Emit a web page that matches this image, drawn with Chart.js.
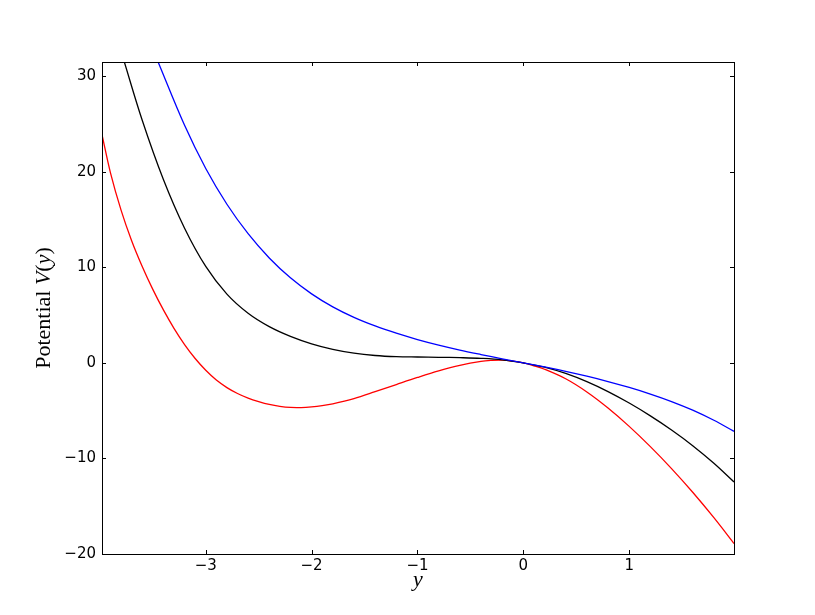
<!DOCTYPE html>
<html>
<head>
<meta charset="utf-8">
<script src="https://cdn.jsdelivr.net/npm/chart.js@4.4.1/dist/chart.umd.min.js"></script>
<style>
  html, body { margin: 0; padding: 0; background: #fff; }
  canvas { display: block; }
</style>
</head>
<body>
<canvas id="potential" width="815" height="615"></canvas>
<script>
// curves: position y and potential V(y) for each line
const yRed = [-3.98, -3.9, -3.8, -3.7, -3.6, -3.5, -3.4, -3.3, -3.2, -3.1, -3.0, -2.9, -2.8, -2.7, -2.6, -2.5, -2.4, -2.3, -2.2, -2.1, -2.0, -1.9, -1.8,
  -1.6, -1.4, -1.2, -1.0, -0.8, -0.6, -0.4, -0.3, -0.2, -0.1, 0, 0.1, 0.2, 0.4, 0.6, 0.8, 1.0, 1.2, 1.4, 1.6, 1.8, 1.99];
const vRed = [23.9, 19.9, 16.0, 12.8, 10.1, 7.7, 5.55, 3.62, 1.92, 0.46, -0.77, -1.79, -2.58, -3.2, -3.68, -4.05, -4.35, -4.55, -4.66, -4.67, -4.6, -4.47, -4.28,
  -3.73, -3.01, -2.26, -1.52, -0.83, -0.25, 0.17, 0.27, 0.3, 0.19, 0, -0.3, -0.66, -1.66, -3.04, -4.72, -6.64, -8.76, -11.06, -13.54, -16.2, -18.9];

const yBlack = [-3.78, -3.6, -3.4, -3.2, -3.0, -2.8, -2.6, -2.4, -2.2, -2.0, -1.8, -1.6, -1.4, -1.2, -1.0, -0.8, -0.6, -0.4, -0.2, 0,
  0.2, 0.4, 0.6, 0.8, 1.0, 1.2, 1.4, 1.6, 1.8, 1.99];
const vBlack = [31.9, 25.4, 19.2, 14.1, 10.1, 7.2, 5.2, 3.8, 2.78, 2.0, 1.42, 1.02, 0.78, 0.66, 0.62, 0.59, 0.55, 0.48, 0.33, 0,
  -0.44, -1.1, -1.96, -3.0, -4.2, -5.54, -7.02, -8.66, -10.5, -12.46];

const yBlue = [-3.45, -3.2, -3.0, -2.8, -2.6, -2.4, -2.2, -2.0, -1.8, -1.6, -1.4, -1.2, -1.0, -0.8, -0.6, -0.4, -0.2, 0,
  0.2, 0.4, 0.6, 0.8, 1.0, 1.2, 1.4, 1.6, 1.8, 1.99];
const vBlue = [31.5, 24.87, 20.35, 16.61, 13.53, 10.99, 8.91, 7.23, 5.87, 4.77, 3.87, 3.11, 2.45, 1.87, 1.35, 0.88, 0.43, 0,
  -0.42, -0.88, -1.39, -1.95, -2.57, -3.26, -4.04, -4.94, -6.0, -7.16];

const xTicks = [-3, -2, -1, 0, 1];
const yTicks = [-20, -10, 0, 10, 20, 30];

// matplotlib style minus sign
function tickText(v) {
  return v < 0 ? '\u2212' + Math.abs(v) : String(v);
}

function toPoints(xs, vs) {
  return xs.map((x, i) => ({ x: x, y: vs[i] }));
}

// black box round the plot with inward ticks on all four sides
const frameAndTicks = {
  id: 'frameAndTicks',
  afterDatasetsDraw(chart) {
    const ctx = chart.ctx;
    const a = chart.chartArea;
    const len = 4;
    ctx.save();
    ctx.strokeStyle = '#000';
    ctx.lineWidth = 1;
    ctx.beginPath();
    xTicks.forEach(v => {
      const px = Math.round(chart.scales.x.getPixelForValue(v)) + 0.5;
      ctx.moveTo(px, a.bottom);
      ctx.lineTo(px, a.bottom - len);
      ctx.moveTo(px, a.top);
      ctx.lineTo(px, a.top + len);
    });
    yTicks.forEach(v => {
      const py = Math.round(chart.scales.y.getPixelForValue(v)) + 0.5;
      ctx.moveTo(a.left, py);
      ctx.lineTo(a.left + len, py);
      ctx.moveTo(a.right, py);
      ctx.lineTo(a.right - len, py);
    });
    ctx.stroke();
    ctx.strokeRect(a.left + 0.5, a.top + 0.5, a.right - a.left, a.bottom - a.top);
    ctx.restore();
  }
};

// axis labels with mixed upright / italic parts like mathtext
function drawPieces(ctx, pieces, size) {
  let total = 0;
  pieces.forEach(p => {
    ctx.font = (p[1] ? 'italic ' : '') + size + 'px "Liberation Serif", serif';
    total += ctx.measureText(p[0]).width;
  });
  let x = -total / 2;
  pieces.forEach(p => {
    ctx.font = (p[1] ? 'italic ' : '') + size + 'px "Liberation Serif", serif';
    ctx.fillText(p[0], x, 0);
    x += ctx.measureText(p[0]).width;
  });
}

const axisTitles = {
  id: 'axisTitles',
  afterDraw(chart) {
    const ctx = chart.ctx;
    const a = chart.chartArea;
    ctx.save();
    ctx.fillStyle = '#000';
    ctx.textAlign = 'left';
    ctx.textBaseline = 'alphabetic';

    ctx.save();
    ctx.translate((a.left + a.right) / 2, 586);
    drawPieces(ctx, [['y', true]], 22);
    ctx.restore();

    ctx.save();
    ctx.translate(50, (a.top + a.bottom) / 2);
    ctx.rotate(-Math.PI / 2);
    drawPieces(ctx, [['Potential ', false], ['V', true], ['(', false], ['y', true], [')', false]], 22);
    ctx.restore();

    ctx.restore();
  }
};

const tickFont = { family: '"DejaVu Sans", sans-serif', size: 15 };

new Chart(document.getElementById('potential'), {
  type: 'line',
  data: {
    datasets: [
      { data: toPoints(yBlue, vBlue), borderColor: '#0000ff' },
      { data: toPoints(yBlack, vBlack), borderColor: '#000000' },
      { data: toPoints(yRed, vRed), borderColor: '#ff0000' }
    ]
  },
  options: {
    responsive: false,
    animation: false,
    events: [],
    layout: { padding: { left: 0, top: 62, right: 81, bottom: 0 } },
    datasets: {
      line: {
        borderWidth: 1.3,
        pointRadius: 0,
        fill: false,
        tension: 0.35,
        clip: 0
      }
    },
    plugins: {
      legend: { display: false },
      tooltip: { enabled: false }
    },
    scales: {
      x: {
        type: 'linear',
        min: -3.98,
        max: 1.99,
        grid: { display: false, drawTicks: false },
        border: { display: false },
        ticks: { color: '#000', font: tickFont, padding: 3, maxRotation: 0, callback: tickText },
        afterBuildTicks: s => { s.ticks = xTicks.map(v => ({ value: v })); },
        afterFit: s => { s.height = 61; }
      },
      y: {
        type: 'linear',
        min: -20,
        max: 31.5,
        grid: { display: false, drawTicks: false },
        border: { display: false },
        ticks: { color: '#000', font: tickFont, padding: 6, callback: tickText },
        afterBuildTicks: s => { s.ticks = yTicks.map(v => ({ value: v })); },
        afterFit: s => { s.width = 102; }
      }
    }
  },
  plugins: [frameAndTicks, axisTitles]
});
</script>
</body>
</html>
